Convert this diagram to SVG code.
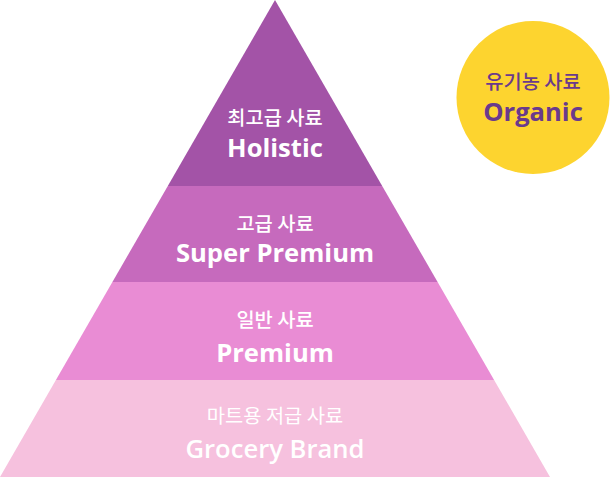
<svg xmlns="http://www.w3.org/2000/svg" width="610" height="477" viewBox="0 0 610 477">
<style>
.ko{font-family:"Noto Sans CJK KR","Noto Sans",sans-serif;font-size:19.8px;font-weight:500;text-anchor:middle;fill:#fff}
.en{font-family:"Open Sans","Noto Sans",sans-serif;font-size:25.6px;font-weight:700;text-anchor:middle;fill:#fff}
.org{fill:#6a3a8c}
</style>
<rect width="610" height="477" fill="#fff"/>
<g id="holistic">
<polygon points="275,0 382.2,186 167.8,186" fill="#a353a7"/>
<text class="ko" x="275" y="125">최고급 사료</text>
<text class="en" x="275" y="157">Holistic</text>
</g>
<g id="super-premium">
<polygon points="167.8,186 382.2,186 437.6,282 112.4,282" fill="#c66abd"/>
<text class="ko" x="275" y="231">고급 사료</text>
<text class="en" x="275" y="262">Super Premium</text>
</g>
<g id="premium">
<polygon points="112.4,282 437.6,282 494.1,380 55.9,380" fill="#e98cd4"/>
<text class="ko" x="275" y="327">일반 사료</text>
<text class="en" x="275" y="362">Premium</text>
</g>
<g id="grocery">
<polygon points="55.9,380 494.1,380 550,477 0,477" fill="#f6c1de"/>
<text class="ko" x="275" y="423" style="font-weight:400">마트용 저급 사료</text>
<text class="en" x="275" y="458" style="font-weight:600">Grocery Brand</text>
</g>
<g id="organic">
<circle cx="533" cy="97.5" r="76.5" fill="#fdd42f"/>
<text class="ko org" x="533" y="89">유기농 사료</text>
<text class="en org" x="533" y="121">Organic</text>
</g>
<g id="connectors"/>
</svg>
